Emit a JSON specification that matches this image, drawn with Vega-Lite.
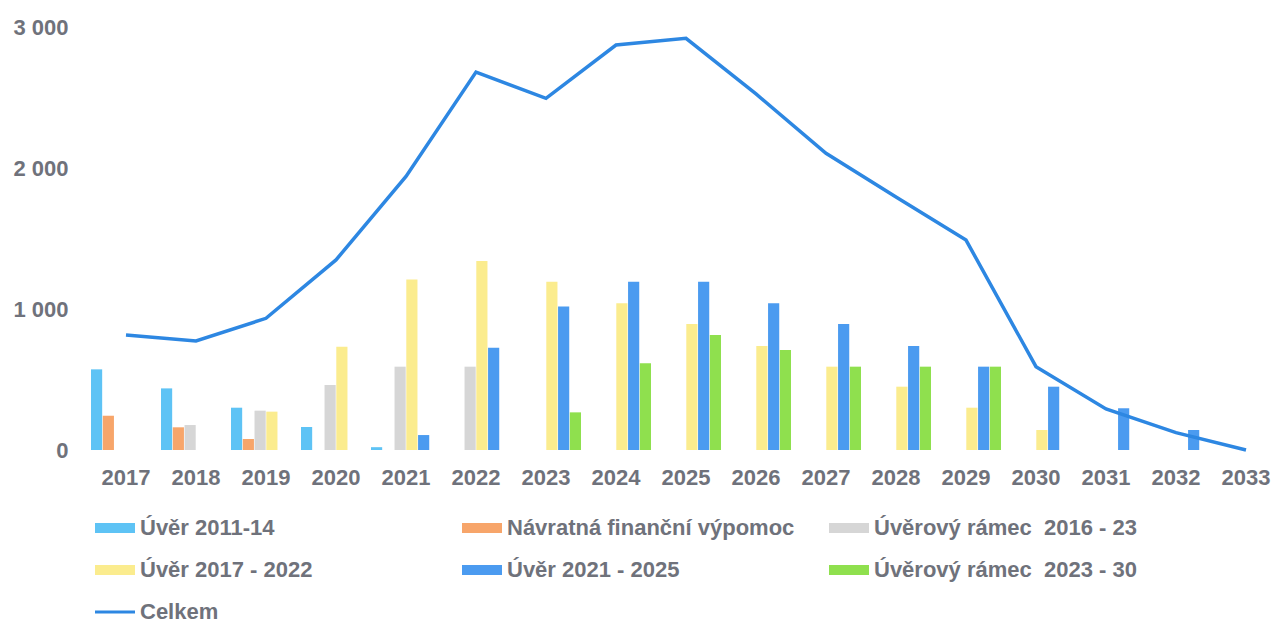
{
  "$schema": "https://vega.github.io/schema/vega-lite/v6.json",
  "width": 1190,
  "height": 423,
  "autosize": "none",
  "padding": {"left": 91, "top": 27, "right": 0, "bottom": 173},
  "background": "white",
  "config": {
    "view": {"stroke": null},
    "font": "Liberation Sans",
    "axis": {"labelFont": "Liberation Sans", "labelFontWeight": "bold", "labelColor": "#6f727b", "labelFontSize": 22}
  },
  "data": {
    "values": [
      {"year": "2017", "series": "Úvěr 2011-14", "value": 572},
      {"year": "2017", "series": "Návratná finanční výpomoc", "value": 243},
      {"year": "2017", "series": "Celkem", "value": 816},
      {"year": "2018", "series": "Úvěr 2011-14", "value": 437},
      {"year": "2018", "series": "Návratná finanční výpomoc", "value": 161},
      {"year": "2018", "series": "Úvěrový rámec\u00a0 2016 - 23", "value": 177},
      {"year": "2018", "series": "Celkem", "value": 773},
      {"year": "2019", "series": "Úvěr 2011-14", "value": 300},
      {"year": "2019", "series": "Návratná finanční výpomoc", "value": 78},
      {"year": "2019", "series": "Úvěrový rámec\u00a0 2016 - 23", "value": 279},
      {"year": "2019", "series": "Úvěr 2017 - 2022", "value": 272},
      {"year": "2019", "series": "Celkem", "value": 934},
      {"year": "2020", "series": "Úvěr 2011-14", "value": 163},
      {"year": "2020", "series": "Úvěrový rámec\u00a0 2016 - 23", "value": 461},
      {"year": "2020", "series": "Úvěr 2017 - 2022", "value": 733},
      {"year": "2020", "series": "Celkem", "value": 1348},
      {"year": "2021", "series": "Úvěr 2011-14", "value": 20},
      {"year": "2021", "series": "Úvěrový rámec\u00a0 2016 - 23", "value": 591},
      {"year": "2021", "series": "Úvěr 2017 - 2022", "value": 1210},
      {"year": "2021", "series": "Úvěr 2021 - 2025", "value": 106},
      {"year": "2021", "series": "Celkem", "value": 1940},
      {"year": "2022", "series": "Úvěrový rámec\u00a0 2016 - 23", "value": 591},
      {"year": "2022", "series": "Úvěr 2017 - 2022", "value": 1340},
      {"year": "2022", "series": "Úvěr 2021 - 2025", "value": 726},
      {"year": "2022", "series": "Celkem", "value": 2680},
      {"year": "2023", "series": "Úvěr 2017 - 2022", "value": 1194},
      {"year": "2023", "series": "Úvěr 2021 - 2025", "value": 1017},
      {"year": "2023", "series": "Úvěrový rámec\u00a0 2023 - 30", "value": 267},
      {"year": "2023", "series": "Celkem", "value": 2494},
      {"year": "2024", "series": "Úvěr 2017 - 2022", "value": 1040},
      {"year": "2024", "series": "Úvěr 2021 - 2025", "value": 1194},
      {"year": "2024", "series": "Úvěrový rámec\u00a0 2023 - 30", "value": 615},
      {"year": "2024", "series": "Celkem", "value": 2872},
      {"year": "2025", "series": "Úvěr 2017 - 2022", "value": 894},
      {"year": "2025", "series": "Úvěr 2021 - 2025", "value": 1194},
      {"year": "2025", "series": "Úvěrový rámec\u00a0 2023 - 30", "value": 816},
      {"year": "2025", "series": "Celkem", "value": 2920},
      {"year": "2026", "series": "Úvěr 2017 - 2022", "value": 738},
      {"year": "2026", "series": "Úvěr 2021 - 2025", "value": 1040},
      {"year": "2026", "series": "Úvěrový rámec\u00a0 2023 - 30", "value": 709},
      {"year": "2026", "series": "Celkem", "value": 2525},
      {"year": "2027", "series": "Úvěr 2017 - 2022", "value": 591},
      {"year": "2027", "series": "Úvěr 2021 - 2025", "value": 894},
      {"year": "2027", "series": "Úvěrový rámec\u00a0 2023 - 30", "value": 591},
      {"year": "2027", "series": "Celkem", "value": 2104},
      {"year": "2028", "series": "Úvěr 2017 - 2022", "value": 449},
      {"year": "2028", "series": "Úvěr 2021 - 2025", "value": 738},
      {"year": "2028", "series": "Úvěrový rámec\u00a0 2023 - 30", "value": 591},
      {"year": "2028", "series": "Celkem", "value": 1794},
      {"year": "2029", "series": "Úvěr 2017 - 2022", "value": 300},
      {"year": "2029", "series": "Úvěr 2021 - 2025", "value": 591},
      {"year": "2029", "series": "Úvěrový rámec\u00a0 2023 - 30", "value": 591},
      {"year": "2029", "series": "Celkem", "value": 1489},
      {"year": "2030", "series": "Úvěr 2017 - 2022", "value": 142},
      {"year": "2030", "series": "Úvěr 2021 - 2025", "value": 449},
      {"year": "2030", "series": "Celkem", "value": 591},
      {"year": "2031", "series": "Úvěr 2021 - 2025", "value": 296},
      {"year": "2031", "series": "Celkem", "value": 291},
      {"year": "2032", "series": "Úvěr 2021 - 2025", "value": 142},
      {"year": "2032", "series": "Celkem", "value": 123},
      {"year": "2033", "series": "Celkem", "value": 0}
    ]
  },
  "encoding": {
    "x": {
      "field": "year", "type": "ordinal",
      "scale": {"type": "band", "paddingInner": 0, "paddingOuter": 0},
      "axis": {"title": null, "domain": false, "ticks": false, "labelAngle": 0, "labelPadding": 17}
    },
    "y": {
      "field": "value", "type": "quantitative",
      "scale": {"domain": [0, 3000], "nice": false},
      "axis": {"title": null, "domain": false, "ticks": false, "grid": false, "values": [0, 1000, 2000, 3000], "labelPadding": 23, "labelExpr": "replace(format(datum.value, ',d'), ',', ' ')"}
    },
    "color": {
      "field": "series", "type": "nominal",
      "scale": {
        "domain": ["Úvěr 2011-14", "Návratná finanční výpomoc", "Úvěrový rámec\u00a0 2016 - 23", "Úvěr 2017 - 2022", "Úvěr 2021 - 2025", "Úvěrový rámec\u00a0 2023 - 30", "Celkem"],
        "range": ["#5ec3f5", "#f7a56a", "#d6d6d6", "#fbec8e", "#4b9bf0", "#8fe04e", "#2d87e2"]
      },
      "legend": {
        "title": null,
        "orient": "none",
        "legendX": 4,
        "legendY": 481,
        "direction": "horizontal",
        "columns": 3,
        "gridAlign": "all",
        "columnPadding": 34,
        "rowPadding": 11,
        "labelFont": "Liberation Sans",
        "labelFontWeight": "bold",
        "labelFontSize": 22,
        "labelColor": "#6f727b",
        "labelOffset": 5,
        "labelLimit": 500,
        "symbolSize": 1600,
        "symbolStrokeWidth": 0,
        "symbolType": "M-1,-0.25H1V0.25H-1Z",
        "encode": {
          "symbols": {
            "update": {
              "shape": {"signal": "datum.value === 'Celkem' ? 'M-1,-0.075H1V0.075H-1Z' : 'M-1,-0.25H1V0.25H-1Z'"},
              "fill": {"signal": "scale('color', datum.value)"},
              "size": {"value": 1600},
              "strokeWidth": {"value": 0},
              "opacity": {"value": 1},
              "fillOpacity": {"value": 1}
            }
          }
        }
      }
    }
  },
  "layer": [
    {
      "transform": [{"filter": "datum.series !== 'Celkem'"}],
      "mark": {"type": "bar", "opacity": 1},
      "encoding": {
        "xOffset": {
          "field": "series", "type": "nominal",
          "scale": {"domain": ["Úvěr 2011-14", "Návratná finanční výpomoc", "Úvěrový rámec\u00a0 2016 - 23", "Úvěr 2017 - 2022", "Úvěr 2021 - 2025", "Úvěrový rámec\u00a0 2023 - 30"], "paddingInner": 0.05, "paddingOuter": 0}
        }
      }
    },
    {
      "transform": [{"filter": "datum.series === 'Celkem'"}],
      "mark": {"type": "line", "strokeWidth": 3.5},
      "encoding": {}
    }
  ]
}
